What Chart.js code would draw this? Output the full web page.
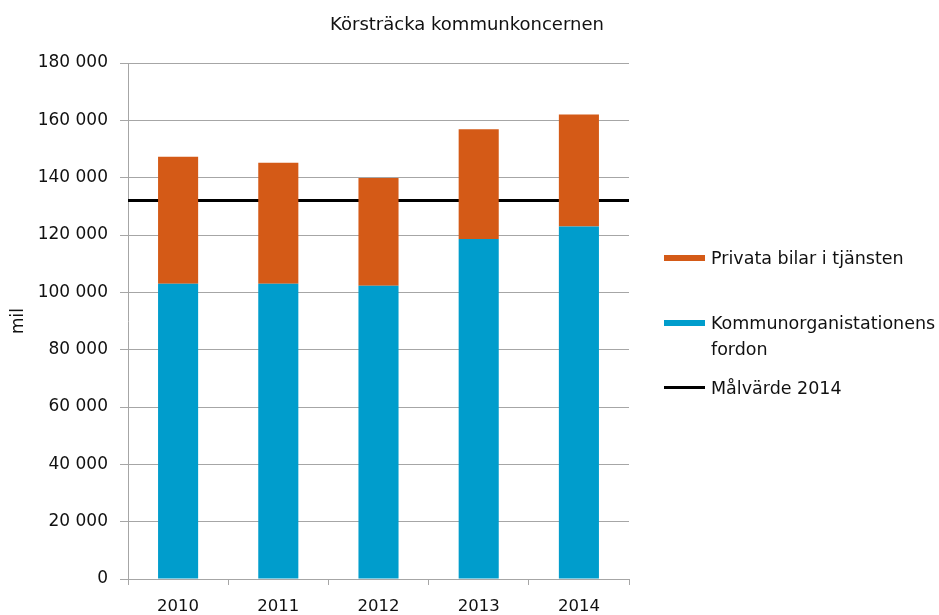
<!DOCTYPE html>
<html>
<head>
<meta charset="utf-8">
<script src="https://cdn.jsdelivr.net/npm/chart.js@4"></script>
<style>
  body { margin: 0; background: #fff; }
  #wrap { position: relative; width: 939px; height: 615px; }
  #legend { position: absolute; left: 664px; top: 0; font-family: "DejaVu Sans", sans-serif; font-size: 17.5px; color: #111; }
  .item { position: absolute; left: 0; white-space: nowrap; }
  .sw { position: absolute; left: 0; width: 41px; }
  .txt { position: absolute; left: 47px; line-height: 26px; }
</style>
</head>
<body>
<div id="wrap">
  <canvas id="chart" width="939" height="615"></canvas>
  <div id="legend"></div>
</div>
<script>
// DATA
const years = ['2010', '2011', '2012', '2013', '2014'];
const egnaFordon = [103000, 103000, 102300, 118600, 123000];
const privataBilar = [44300, 42200, 37600, 38300, 39000];
const malvarde = 132000;
const yTicks = [0, 20000, 40000, 60000, 80000, 100000, 120000, 140000, 160000, 180000];

const titleText = 'Körsträcka kommunkoncernen';
const nameEgna = 'Kommunorganistationens fordon';
const namePrivata = 'Privata bilar i tjänsten';
const nameMal = 'Målvärde 2014';

const blue = '#009dcc';
const orange = '#d45a17';
const gridColor = '#a6a6a6';

function spaced(v) {
  return String(v).replace(/\B(?=(\d{3})+(?!\d))/g, ' ');
}

// title centred over the whole picture
const titlePlugin = {
  id: 'topTitle',
  afterDraw(chart) {
    const c = chart.ctx;
    c.save();
    c.font = '18px "DejaVu Sans"';
    c.fillStyle = '#111';
    c.textAlign = 'center';
    c.textBaseline = 'middle';
    c.fillText(titleText, 467, 25);
    c.restore();
  }
};

const ctx = document.getElementById('chart');
new Chart(ctx, {
  data: {
    labels: years,
    datasets: [
      { type: 'bar', label: nameEgna, data: egnaFordon, backgroundColor: blue },
      { type: 'bar', label: namePrivata, data: privataBilar, backgroundColor: orange },
      {
        type: 'line', label: nameMal, xAxisID: 'x2',
        data: [{ x: 0, y: malvarde }, { x: 1, y: malvarde }],
        borderColor: '#000', borderWidth: 3, pointRadius: 0
      }
    ]
  },
  options: {
    responsive: false,
    animation: false,
    datasets: { bar: { barPercentage: 0.4, categoryPercentage: 1, grouped: false } },
    layout: { padding: { left: 8, right: 310, top: 63, bottom: 0 } },
    plugins: {
      legend: { display: false },
      title: { display: false },
      tooltip: { enabled: false }
    },
    scales: {
      x: {
        stacked: true,
        offset: true,
        afterFit(scale) { scale.height = 36; },
        grid: { offset: true, drawOnChartArea: false, color: gridColor, tickLength: 6 },
        border: { color: gridColor },
        ticks: { color: '#111', font: { family: 'DejaVu Sans', size: 16.5 }, padding: 12 }
      },
      x2: { type: 'linear', min: 0, max: 1, display: false },
      y: {
        stacked: true,
        min: 0,
        max: 180000,
        afterBuildTicks(scale) { scale.ticks = yTicks.map(v => ({ value: v })); },
        afterFit(scale) { scale.width = 120; },
        grid: { color: gridColor, tickLength: 8 },
        border: { color: gridColor },
        ticks: {
          color: '#111',
          font: { family: 'DejaVu Sans', size: 17 },
          padding: 12,
          callback: v => spaced(v)
        },
        title: { display: true, text: 'mil', color: '#111', font: { family: 'DejaVu Sans', size: 17 }, padding: 0 }
      }
    }
  },
  plugins: [titlePlugin]
});

// HTML legend
const legendItems = [
  { kind: 'box', color: orange, lines: [namePrivata], top: 245 },
  { kind: 'box', color: blue, lines: ['Kommunorganistationens', 'fordon'], top: 310 },
  { kind: 'line', color: '#000', lines: [nameMal], top: 375 }
];
const legend = document.getElementById('legend');
legendItems.forEach(it => {
  const d = document.createElement('div');
  d.className = 'item';
  d.style.top = it.top + 'px';
  const sw = document.createElement('div');
  sw.className = 'sw';
  sw.style.background = it.color;
  sw.style.height = it.kind === 'box' ? '6px' : '3px';
  sw.style.top = it.kind === 'box' ? '10px' : '11px';
  const t = document.createElement('div');
  t.className = 'txt';
  t.innerHTML = it.lines.join('<br>');
  d.appendChild(sw);
  d.appendChild(t);
  legend.appendChild(d);
});
</script>
</body>
</html>
